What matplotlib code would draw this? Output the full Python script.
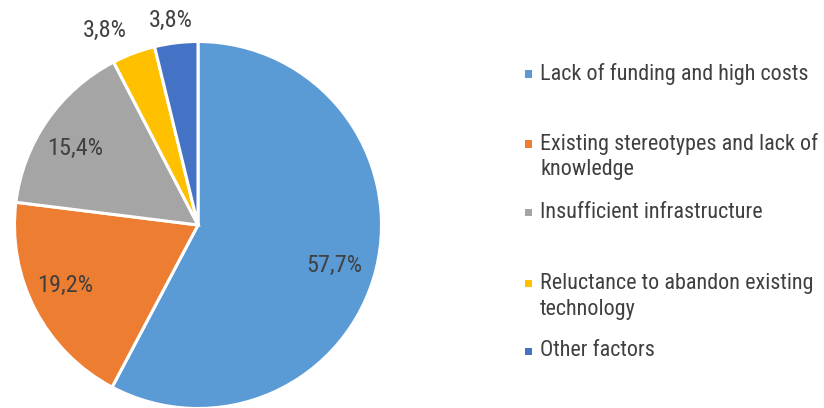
import matplotlib
matplotlib.use("Agg")
import matplotlib.pyplot as plt
import numpy as np

categories = ["Lack of funding and high costs",
              "Existing stereotypes and lack of\nknowledge",
              "Insufficient infrastructure",
              "Reluctance to abandon existing\ntechnology",
              "Other factors"]
values = [57.7, 19.2, 15.4, 3.8, 3.8]
labels = ["57,7%", "19,2%", "15,4%", "3,8%", "3,8%"]
colors = ["#5B9BD5", "#ED7D31", "#A5A5A5", "#FFC000", "#4472C4"]
# label placement (style): radial distance and angular nudge in degrees
label_r = [0.773, 0.797, 0.79, 1.175, 1.127]
label_dang = [-2.7, -3.1, 3.0, 5.0, 0.7]

plt.rcParams['font.family'] = ['Liberation Sans Narrow', 'Roboto Condensed', 'Arial Narrow',
                               'Liberation Sans', 'DejaVu Sans']
txt_color = "#404040"

W, H = 824, 408
fig = plt.figure(figsize=(W / 100, H / 100), dpi=100)
cx, cy, R = 198, 225, 183.5
ax = fig.add_axes([(cx - R) / W, (H - cy - R) / H, 2 * R / W, 2 * R / H])
wedges, _ = ax.pie(values, colors=colors, startangle=90, counterclock=False,
                   radius=1, wedgeprops=dict(edgecolor="white", linewidth=2.2))
ax.set_xlim(-1, 1)
ax.set_ylim(-1, 1)
ax.set_aspect("equal")
ax.axis("off")

for w, lab, r, da in zip(wedges, labels, label_r, label_dang):
    th = np.deg2rad((w.theta1 + w.theta2) / 2 + da)
    ax.text(r * np.cos(th), r * np.sin(th), lab, ha="center", va="center",
            fontsize=17.5, color=txt_color, clip_on=False)

# legend
legend_y = [74, 144, 212, 283, 351]
line_gap = 26
for lab, col, y in zip(categories, colors, legend_y):
    fig.patches.append(plt.Rectangle((525 / W, (H - y - 3.5) / H), 7 / W, 7 / H,
                                     transform=fig.transFigure, facecolor=col,
                                     edgecolor="none"))
    for i, line in enumerate(lab.split("\n")):
        fig.text(540 / W, (H - y - i * line_gap) / H, line, ha="left", va="center",
                 fontsize=15.9, color=txt_color)

fig.savefig("out.png", dpi=100)
